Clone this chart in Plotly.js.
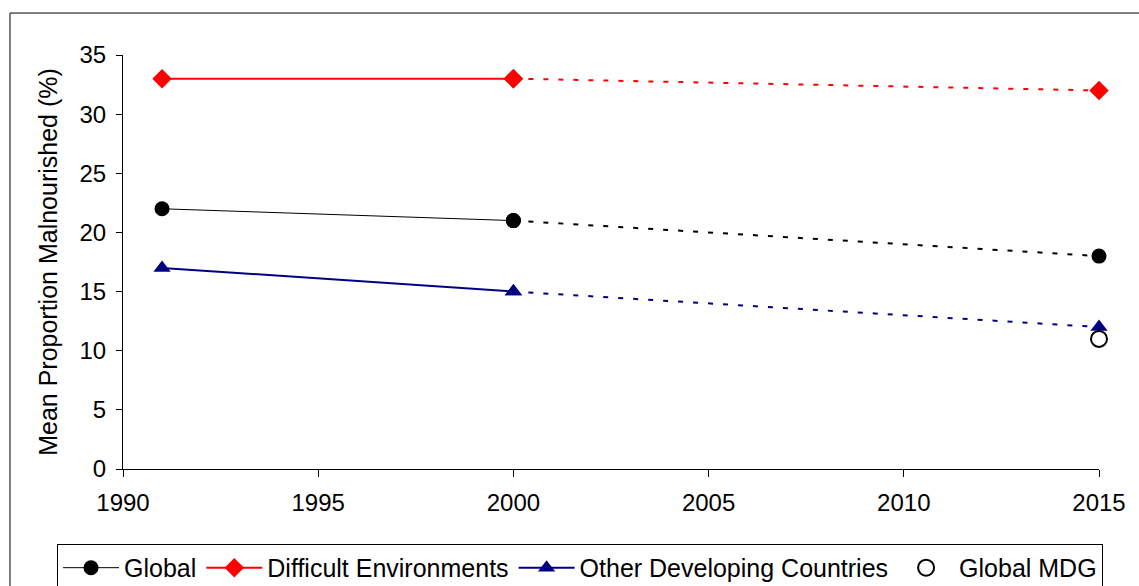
<!DOCTYPE html>
<html><head><meta charset="utf-8">
<script src="https://cdn.plot.ly/plotly-3.0.1.min.js"></script>
<style>html,body{margin:0;padding:0;background:#fff;overflow:hidden}#chart{width:1139px;height:610px}</style>
</head><body><div id="chart"></div>
<script>
const yearsObserved = [1991, 2000];
const yearsProjected = [2000, 2015];
const globalObs = [22, 21];
const globalProj = [21, 18];
const difficultObs = [33, 33];
const difficultProj = [33, 32];
const otherObs = [17, 15];
const otherProj = [15, 12];
const mdgYear = [2015];
const mdgValue = [11];
const xTicks = [1990, 1995, 2000, 2005, 2010, 2015];
const yTicks = [0, 5, 10, 15, 20, 25, 30, 35];

const dotted = '5px,10px';
const traces = [
  {x: yearsObserved, y: globalObs, name: 'Global', mode: 'lines+markers', cliponaxis: false,
   line: {color: '#000', width: 1}, marker: {symbol: 'circle', size: 15, color: '#000'}},
  {x: yearsObserved, y: difficultObs, name: 'Difficult Environments', mode: 'lines+markers', cliponaxis: false,
   line: {color: '#ff0000', width: 2}, marker: {symbol: 'diamond', size: 15, color: '#ff0000'}},
  {x: yearsObserved, y: otherObs, name: 'Other Developing Countries', mode: 'lines+markers', cliponaxis: false,
   line: {color: '#000080', width: 2}, marker: {symbol: 'triangle-up', size: 15, color: '#000080'}},
  {x: yearsProjected, y: globalProj, mode: 'lines+markers', showlegend: false, cliponaxis: false,
   line: {color: '#000', width: 2, dash: dotted}, marker: {symbol: 'circle', size: 15, color: '#000'}},
  {x: yearsProjected, y: difficultProj, mode: 'lines+markers', showlegend: false, cliponaxis: false,
   line: {color: '#ff0000', width: 2, dash: dotted}, marker: {symbol: 'diamond', size: 15, color: '#ff0000'}},
  {x: yearsProjected, y: otherProj, mode: 'lines+markers', showlegend: false, cliponaxis: false,
   line: {color: '#000080', width: 2, dash: dotted}, marker: {symbol: 'triangle-up', size: 15, color: '#000080'}},
  {x: mdgYear, y: mdgValue, name: 'Global MDG', mode: 'markers', cliponaxis: false,
   marker: {symbol: 'circle-open', size: 16, color: '#000', line: {width: 2, color: '#000'}}}
];

const layout = {
  width: 1139, height: 610,
  margin: {l: 123, r: 40, t: 55, b: 141},
  paper_bgcolor: '#fff', plot_bgcolor: '#fff',
  font: {family: 'Liberation Sans, Arial, sans-serif', size: 24, color: '#000'},
  showlegend: true,
  xaxis: {range: [1990, 2015], tickvals: xTicks, ticktext: xTicks.map(String),
    showgrid: false, zeroline: false, showline: true, linecolor: '#000', linewidth: 1,
    ticks: 'outside', ticklen: 7, tickcolor: '#000', tickfont: {size: 24}, ticklabelstandoff: 5},
  yaxis: {range: [0, 35], tickvals: yTicks, ticktext: yTicks.map(String),
    showgrid: false, zeroline: false, showline: true, linecolor: '#000', linewidth: 1,
    ticks: 'outside', ticklen: 6, tickcolor: '#000', tickfont: {size: 24}, ticklabelstandoff: 5,
    title: {text: 'Mean Proportion Malnourished (%)', font: {size: 25}, standoff: 14}},
  legend: {orientation: 'h', x: -0.0676, xanchor: 'left', y: -0.181, yanchor: 'top',
    bordercolor: '#000', borderwidth: 1, bgcolor: '#fff', font: {size: 25},
    itemwidth: 56, traceorder: 'normal'},
  shapes: [
    {type: 'rect', xref: 'paper', yref: 'paper', x0: -0.1158, x1: 1.1, y0: -0.4, y1: 1.1014,
     line: {color: '#000', width: 1}, fillcolor: 'rgba(0,0,0,0)', layer: 'below'}
  ]
};

Plotly.newPlot('chart', traces, layout, {displayModeBar: false});
</script></body></html>
